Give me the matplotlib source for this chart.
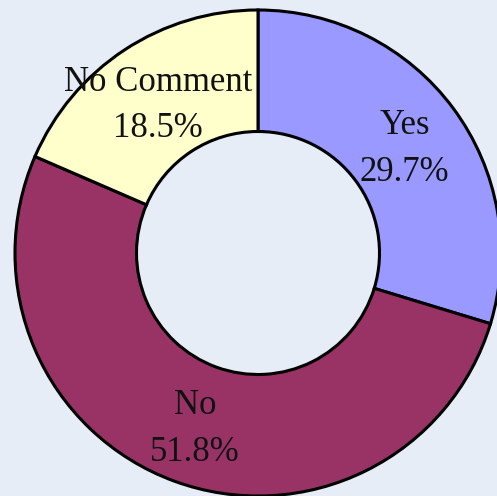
import numpy as np
import matplotlib
matplotlib.use('Agg')
import matplotlib.pyplot as plt

# survey answers, clockwise from 12 o'clock
labels = ['Yes', 'No', 'No Comment']
shares = [29.7, 51.8, 18.5]
colors = ['#9999ff', '#993366', '#ffffcc']

bg = '#e6edf6'

fig = plt.figure(figsize=(4.97, 4.96), dpi=100, facecolor=bg)
# centre of the ring sits at about (258, 253) px, outer radius ~243 px
ax = fig.add_axes([15 / 497, 0.0, 486 / 497, 486 / 496])
ax.set_facecolor(bg)

wedges, _ = ax.pie(shares, colors=colors, startangle=90, counterclock=False,
                   radius=1.0,
                   wedgeprops=dict(width=0.5, edgecolor='black', linewidth=2.2))

# labels in the middle of the ring (nudged down a little)
for w, lab, val in zip(wedges, labels, shares):
    mid = np.deg2rad((w.theta1 + w.theta2) / 2)
    r = 0.75
    ax.text(r * np.cos(mid), r * np.sin(mid) - 0.02, f'{lab}\n{val}%',
            ha='center', va='center', fontsize=25, family='Liberation Serif',
            linespacing=1.55, color='#111111')

ax.set_xlim(-1, 1)
ax.set_ylim(-1, 1)
ax.set_aspect('equal')
ax.axis('off')

fig.savefig('out.png', dpi=100, facecolor=bg)
